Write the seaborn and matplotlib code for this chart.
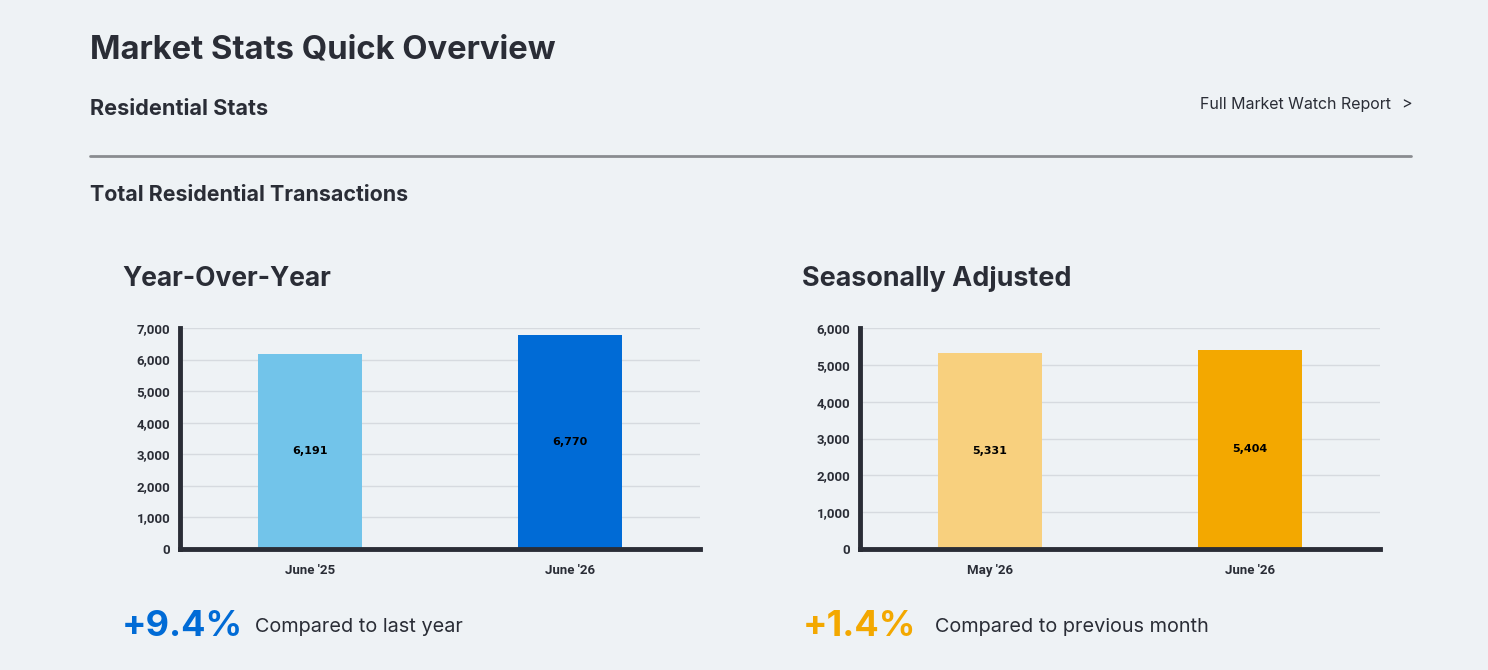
import matplotlib
matplotlib.use("Agg")
import matplotlib.pyplot as plt
import seaborn as sns
import pandas as pd

# ---- data ----
yoy_categories = ["June '25", "June '26"]
yoy_values = [6191, 6770]
yoy_ticks = [0, 1000, 2000, 3000, 4000, 5000, 6000, 7000]
sa_categories = ["May '26", "June '26"]
sa_values = [5331, 5404]
sa_ticks = [0, 1000, 2000, 3000, 4000, 5000, 6000]
yoy_change = "+9.4%"
sa_change = "+1.4%"

BG = "#eef2f5"
DARK = "#2a2d36"
GRID = "#d6dadf"

sns.set_theme(style="white")
plt.rcParams["font.family"] = ["Inter", "DejaVu Sans"]

W, H = 1488, 670
fig = plt.figure(figsize=(W / 100, H / 100), dpi=100, facecolor=BG)


def px_axes(x0, y_top, x1, y_bot):
    return fig.add_axes([x0 / W, 1 - y_bot / H, (x1 - x0) / W, (y_bot - y_top) / H])


def draw_chart(ax, cats, vals, ticks, colors):
    df = pd.DataFrame({"cat": cats, "val": vals})
    sns.barplot(data=df, x="cat", y="val", hue="cat", palette=colors,
                width=0.4, legend=False, ax=ax, saturation=1,
                edgecolor="none", linewidth=0)
    ax.set_facecolor(BG)
    ax.set_xlim(-0.5, 1.5)
    ax.set_ylim(0, ticks[-1])
    ax.set_yticks(ticks)
    ax.set_yticklabels([f"{t:,}" for t in ticks], fontfamily="Roboto",
                       fontweight="bold", fontsize=9.5, color=DARK)
    ax.set_xticks(range(len(cats)))
    ax.set_xticklabels(cats, fontfamily="Roboto", fontweight="bold",
                       fontsize=9.5, color=DARK)
    ax.set_xlabel("")
    ax.set_ylabel("")
    ax.yaxis.grid(True, color=GRID, linewidth=1)
    ax.set_axisbelow(True)
    for s in ["top", "right"]:
        ax.spines[s].set_visible(False)
    for s in ["left", "bottom"]:
        ax.spines[s].set_color(DARK)
        ax.spines[s].set_linewidth(3.5)
    ax.tick_params(axis="y", length=0, pad=7)
    ax.tick_params(axis="x", length=0, pad=11)
    for cont, v in zip(ax.containers, vals):
        ax.bar_label(cont, labels=[f"{v:,}"], label_type="center",
                     fontsize=8, fontweight="bold", color="black",
                     fontfamily="DejaVu Sans")


ax1 = px_axes(180, 328, 700, 549)
draw_chart(ax1, yoy_categories, yoy_values, yoy_ticks, ["#72c4ea", "#006bd6"])
ax2 = px_axes(860, 328, 1380, 549)
draw_chart(ax2, sa_categories, sa_values, sa_ticks, ["#f8d07e", "#f3a800"])


def T(x, y, s, **kw):
    fig.text(x / W, 1 - y / H, s, **kw)


T(90, 50, "Market Stats Quick Overview", fontsize=23.6, fontweight="bold",
  color=DARK, va="center", ha="left")
T(90, 109, "Residential Stats", fontsize=15.6, fontweight="bold",
  color=DARK, va="center", ha="left")
T(1391, 104, "Full Market Watch Report", fontsize=11.5, color=DARK,
  va="center", ha="right")
T(1412, 104, ">", fontsize=11.5, color=DARK, va="center", ha="right")
fig.add_artist(plt.Line2D([90 / W, 1411 / W], [1 - 156 / H, 1 - 156 / H],
                          color="#8a8c90", linewidth=2))
T(90, 195, "Total Residential Transactions", fontsize=15.4, fontweight="bold",
  color=DARK, va="center", ha="left")
T(122, 279, "Year-Over-Year", fontsize=19, fontweight="bold",
  color=DARK, va="center", ha="left")
T(802, 279, "Seasonally Adjusted", fontsize=19.4, fontweight="bold",
  color=DARK, va="center", ha="left")
T(122, 627, yoy_change, fontsize=26, fontweight="bold", color="#006bd6",
  va="center", ha="left")
T(255, 627, "Compared to last year", fontsize=14.3, color=DARK,
  va="center", ha="left")
T(803, 627, sa_change, fontsize=26, fontweight="bold", color="#f3a800",
  va="center", ha="left")
T(935, 627, "Compared to previous month", fontsize=14.3, color=DARK,
  va="center", ha="left")

fig.savefig("out.png", dpi=100, facecolor=BG)
